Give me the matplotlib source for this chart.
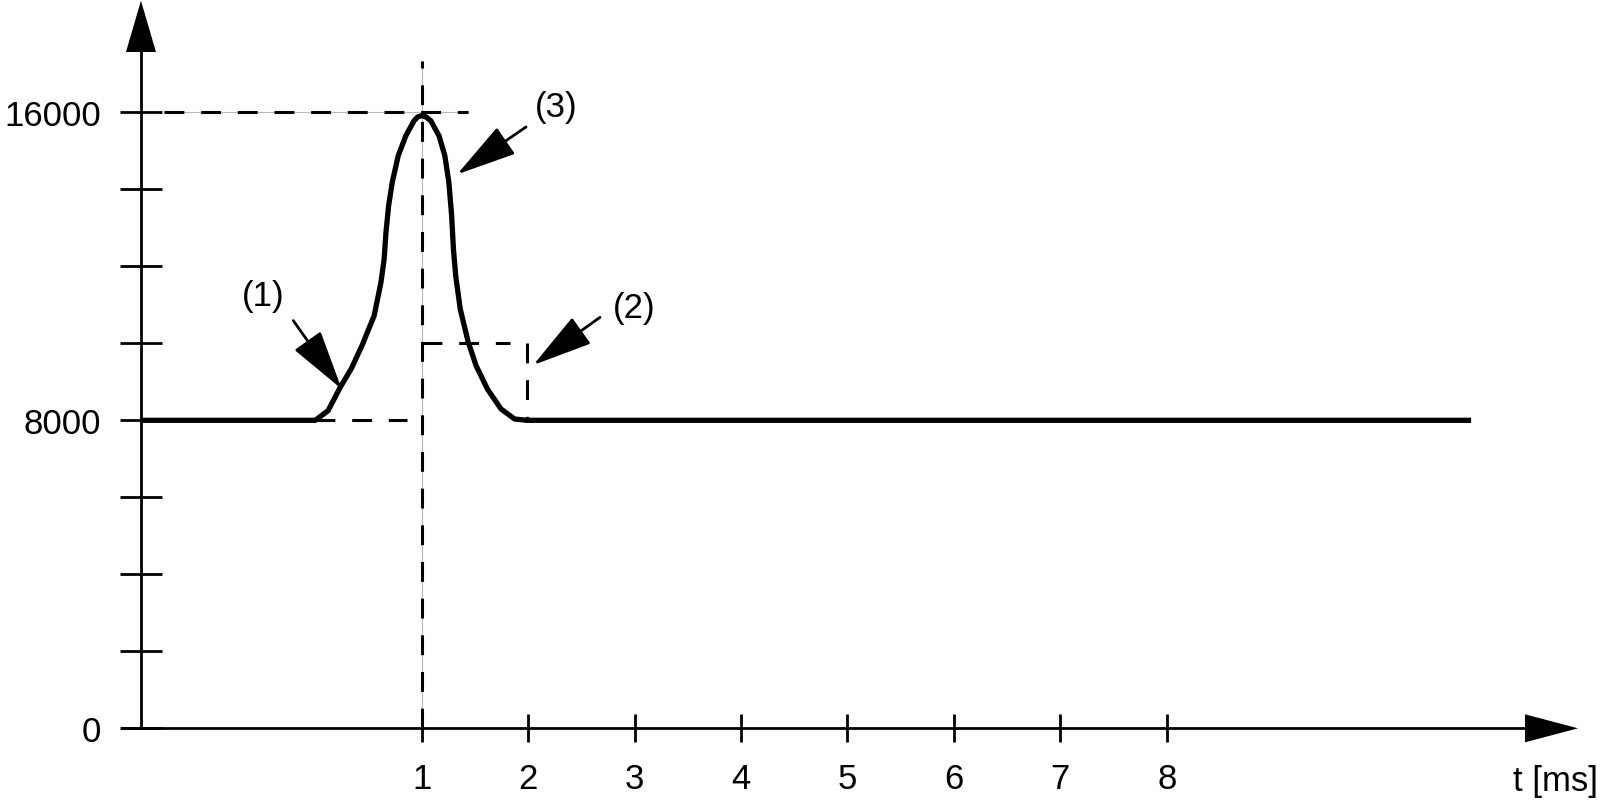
import matplotlib
matplotlib.use('Agg')
import matplotlib.pyplot as plt

plt.rcParams['font.family'] = ['Liberation Sans Narrow', 'Liberation Sans', 'DejaVu Sans']

# pulse curve (t in ms, value)
curve_t = [-1.64, 0.0, 0.12, 0.234, 0.34, 0.44, 0.553, 0.617, 0.647, 0.664, 0.689,
           0.723, 0.779, 0.851, 0.928, 0.965, 1.0, 1.04, 1.085, 1.162, 1.217, 1.255,
           1.281, 1.298, 1.319, 1.362, 1.435, 1.511, 1.617, 1.745, 1.872, 1.99, 10.86]
curve_v = [8000, 8000, 8250, 8857, 9350, 9950, 10717, 11584, 12190, 12880, 13574,
           14182, 14873, 15392, 15782, 15885, 15912, 15880, 15782, 15392, 14873, 14182,
           13314, 12450, 11757, 10890, 10050, 9419, 8813, 8294, 8034, 8000, 8000]

x_ticks = [1, 2, 3, 4, 5, 6, 7, 8]
y_ticks = [0, 2000, 4000, 6000, 8000, 10000, 12000, 14000, 16000]
y_labels = ['0', '', '', '', '8000', '', '', '', '16000']

# callouts: label, text position, arrow tail, arrow tip
callouts = [
    ('(1)', (-0.49, 11240), (-0.207, 10590), (0.248, 8813)),
    ('(2)', (3.0, 10920), (2.675, 10675), (2.048, 9436)),
    ('(3)', (2.26, 16140), (1.98, 15620), (1.333, 14390)),
]

y_axis_t = -1.638
fs = 25

fig = plt.figure(figsize=(16.02, 8.04), dpi=100)
ax = fig.add_axes([0, 0, 1, 1])
ax.set_xlim(-2.9625, 12.0897)
ax.set_ylim(-1940, 18943)
ax.patch.set_visible(False)

# axes as spines through the origin
for s in ['top', 'right']:
    ax.spines[s].set_visible(False)
ax.spines['left'].set_position(('data', y_axis_t))
ax.spines['bottom'].set_position(('data', 0))
ax.spines['left'].set_bounds(0, 17566)
ax.spines['bottom'].set_bounds(-1.816, 11.366)
ax.spines['left'].set_linewidth(2)
ax.spines['bottom'].set_linewidth(2)

# arrow heads on the axes
ax.fill([y_axis_t - 0.141, y_axis_t + 0.141, y_axis_t], [17566, 17566, 18900],
        color='black', lw=0)
ax.fill([11.366, 11.366, 11.864], [-364, 364, 0], color='black', lw=0)

ax.set_xticks(x_ticks)
ax.set_xticklabels([str(v) for v in x_ticks])
ax.set_yticks(y_ticks)
ax.set_yticklabels(y_labels)
ax.tick_params(axis='x', direction='inout', length=20, width=2, pad=14, labelsize=fs)
ax.tick_params(axis='y', direction='inout', length=30, width=2, pad=14, labelsize=fs)

ax.text(12.05, -1343, 't [ms]', fontsize=fs, ha='right', va='center')

# thin guide lines behind the dashed ones
ax.plot([1, 1], [0, 17340], color='#b8b8b8', lw=0.8, zorder=1)
ax.plot([y_axis_t + 0.22, 1.435], [16000, 16000], color='#b8b8b8', lw=0.8, zorder=1)

dash = (0, (6.5, 5.5))
ax.plot([1, 1], [0, 17340], color='black', lw=2.2, ls=dash, zorder=2)
ax.plot([y_axis_t + 0.22, 1.435], [16000, 16000], color='black', lw=2.2, ls=dash, zorder=2)
ax.plot([0, 0.86], [8000, 8000], color='black', lw=2.2, ls=dash, zorder=2)
ax.plot([1, 1.83], [10000, 10000], color='black', lw=2.2, ls=dash, zorder=2)
ax.plot([1.99, 1.99], [10000, 8000], color='black', lw=2.2, ls=dash, zorder=2)

ax.plot(curve_t, curve_v, color='black', lw=3.8, solid_joinstyle='round',
        solid_capstyle='butt', zorder=3)

for label, txt, tail, tip in callouts:
    ax.annotate('', xy=tip, xytext=tail,
                arrowprops=dict(arrowstyle='-|>,head_length=1.3,head_width=0.35',
                                mutation_scale=29, lw=2, color='black',
                                shrinkA=0, shrinkB=0))
    ax.text(txt[0], txt[1], label, fontsize=fs, ha='center', va='center')

fig.savefig('out.png', dpi=100)
